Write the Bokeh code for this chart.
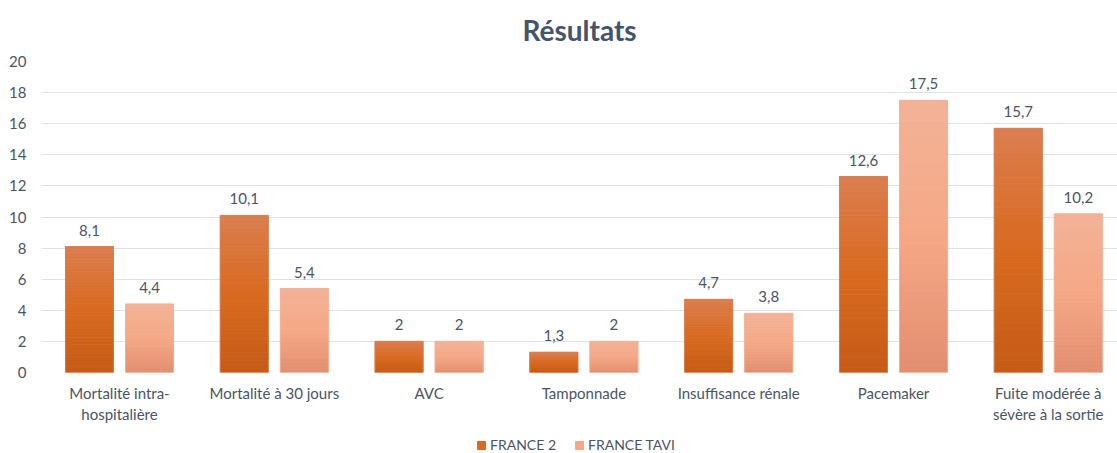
from bokeh.plotting import figure
from bokeh.layouts import column
from bokeh.models import Range1d, FixedTicker, Legend, LegendItem, ColumnDataSource, LabelSet
from bokeh.embed import file_html
from bokeh.resources import INLINE
from bokeh.core.properties import value

categories = ["Mortalité intra-\nhospitalière", "Mortalité à 30 jours", "AVC", "Tamponnade",
              "Insuffisance rénale", "Pacemaker", "Fuite modérée à\nsévère à la sortie"]
france2 = [8.1, 10.1, 2, 1.3, 4.7, 12.6, 15.7]
france_tavi = [4.4, 5.4, 2, 2, 3.8, 17.5, 10.2]
series_names = ["FRANCE 2", "FRANCE TAVI"]
y_ticks = [0, 2, 4, 6, 8, 10, 12, 14, 16, 18, 20]

FONT = "Lato"
TXT = "#4A5466"

# gradient stops (bottom, middle, top)
grad_dark = ["#C55B17", "#D96A20", "#DA7D4F"]
grad_light = ["#E28E70", "#F5A886", "#F3B297"]


def hex2rgb(h):
    h = h.lstrip("#")
    return tuple(int(h[i:i + 2], 16) for i in (0, 2, 4))


def interp(stops, t):
    if t <= 0.5:
        a, b, u = stops[0], stops[1], t / 0.5
    else:
        a, b, u = stops[1], stops[2], (t - 0.5) / 0.5
    ra, rb = hex2rgb(a), hex2rgb(b)
    c = tuple(round(ra[k] + (rb[k] - ra[k]) * u) for k in range(3))
    return "#%02x%02x%02x" % c


p = figure(width=1117, height=430, output_backend="svg", toolbar_location=None,
           x_range=Range1d(-0.504, 6.447), y_range=Range1d(0, 20),
           min_border_left=41, min_border_right=0, min_border_top=61, min_border_bottom=58,
           title="Résultats")
p.outline_line_color = None
p.background_fill_color = "white"
p.border_fill_color = "white"

p.title.align = "center"
p.title.vertical_align = "top"
p.title.offset = -9
p.title.text_font = FONT
p.title.text_font_size = "28px"
p.title.text_font_style = "bold"
p.title.text_color = "#44546A"
p.title.standoff = 25

p.xgrid.grid_line_color = None
p.ygrid.grid_line_color = "#DDE1E8"
p.ygrid.grid_line_width = 1
p.ygrid.ticker = FixedTicker(ticks=y_ticks)

p.yaxis.ticker = FixedTicker(ticks=y_ticks)
p.yaxis.axis_line_color = None
p.yaxis.major_tick_line_color = None
p.yaxis.minor_tick_line_color = None
p.yaxis.major_tick_out = 0
p.yaxis.major_tick_in = 0
p.yaxis.major_label_text_font = FONT
p.yaxis.major_label_text_font_size = "15px"
p.yaxis.major_label_text_color = TXT
p.yaxis.major_label_standoff = 15

idx = list(range(len(categories)))
p.xaxis.ticker = FixedTicker(ticks=idx)
p.xaxis.major_label_overrides = {i: c for i, c in enumerate(categories)}
p.xaxis.axis_line_color = None
p.xaxis.major_tick_line_color = None
p.xaxis.minor_tick_line_color = None
p.xaxis.major_tick_out = 0
p.xaxis.major_tick_in = 0
p.xaxis.major_label_text_font = FONT
p.xaxis.major_label_text_font_size = "15px"
p.xaxis.major_label_text_color = TXT
p.xaxis.major_label_standoff = 11

N = 40
OFF = 0.194
W = 0.31
mid_colors = []
for s, (vals, stops) in enumerate([(france2, grad_dark), (france_tavi, grad_light)]):
    xs = [i + (-OFF if s == 0 else OFF) for i in idx]
    for k in range(N):
        bottoms = [v * k / N for v in vals]
        tops = [v * (k + 1) / N for v in vals]
        col = interp(stops, (k + 0.5) / N)
        p.vbar(x=xs, bottom=bottoms, top=tops, width=W, fill_color=col,
               line_color=col, line_width=0.8)
    mid_colors.append(stops[1])
    # thin lighter outline
    p.vbar(x=xs, bottom=0, top=vals, width=W, fill_color=None,
           line_color=stops[2], line_width=1, line_alpha=0.8)
    src = ColumnDataSource(dict(x=xs, y=vals, t=[("%g" % v).replace(".", ",") for v in vals]))
    p.add_layout(LabelSet(x="x", y="y", text="t", source=src, text_align="center",
                          text_baseline="bottom", y_offset=11, text_font=value(FONT),
                          text_font_size="15px", text_color=TXT))

# legend strip below the chart (swatch renderers sit outside the visible range)
pl = figure(width=1117, height=23, output_backend="svg", toolbar_location=None,
            x_range=Range1d(0, 1), y_range=Range1d(0, 1),
            x_axis_location=None, y_axis_location=None,
            min_border_left=0, min_border_right=0, min_border_top=0, min_border_bottom=0)
pl.outline_line_color = None
pl.xgrid.grid_line_color = None
pl.ygrid.grid_line_color = None
items = []
for name, col in zip(series_names, mid_colors):
    r = pl.vbar(x=[5], top=[1], width=0.1, fill_color=col, line_color=col)
    items.append(LegendItem(label=name, renderers=[r]))
legend = Legend(items=items, orientation="horizontal", location=(435, 0),
                border_line_color=None, background_fill_alpha=0,
                label_text_font=FONT, label_text_font_size="14px", label_text_color=TXT,
                glyph_width=10, glyph_height=10, label_height=14, spacing=18, padding=0,
                margin=0, label_standoff=4)
pl.add_layout(legend, "center")

open("out.html", "w").write(file_html(column(p, pl, spacing=0), INLINE))
